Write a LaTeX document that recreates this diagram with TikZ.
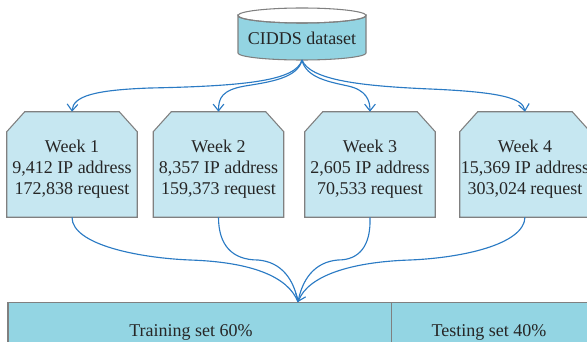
\documentclass[tikz,border=0pt]{standalone}
\usepackage{fontspec}
\setmainfont{Liberation Serif}
\usetikzlibrary{arrows.meta,backgrounds}
\definecolor{cylfill}{HTML}{93D4E2}
\definecolor{boxfill}{HTML}{C6E7F1}
\definecolor{barfill}{HTML}{93D5E3}
\definecolor{edgegray}{HTML}{808080}
\definecolor{flowblue}{HTML}{2B7BC4}
\newcommand{\firststrut}{\rule{0pt}{16pt}}
\tikzset{
  txt/.style={font=\fontsize{13.5}{15.9}\selectfont, text=black!85, align=center},
  weekbox/.style={txt, inner sep=0pt, minimum width=97.5pt, minimum height=78.75pt},
  weekshape/.style={draw=edgegray, line width=0.8pt, fill=boxfill},
  barbox/.style={draw=edgegray, line width=0.8pt, fill=barfill, inner sep=0pt, anchor=north west},
  flow/.style={draw=flowblue, line width=0.85pt, -{Straight Barb[length=5pt,width=8pt]}},
  merge/.style={draw=flowblue, line width=0.85pt},
}
\begin{document}
\begin{tikzpicture}[x=0.75pt,y=0.75pt]
\useasboundingbox (0,0) rectangle (587,-342);
% cylinder
\filldraw[draw=edgegray, line width=0.8pt, fill=cylfill]
  (238,-15.5) -- (238,-53) arc[start angle=180, end angle=360, x radius=64, y radius=7]
  -- (366,-15.5) arc[start angle=0, end angle=-180, x radius=64, y radius=7.5] -- cycle;
\draw[edgegray, line width=0.8pt] (302,-15.5) ellipse[x radius=64, y radius=7.5];
\node[txt, minimum width=96pt, minimum height=30pt] (db) at (302,-38) {CIDDS dataset};
\coordinate (dbb) at (302,-60);
% week boxes
\node[weekbox] (w1) at (72,-164.5) {\firststrut Week 1\\9,412 IP address\\172,838 request};
\node[weekbox] (w2) at (218.5,-164.5) {\firststrut Week 2\\8,357 IP address\\159,373 request};
\node[weekbox] (w3) at (370,-164.5) {\firststrut Week 3\\2,605 IP address\\70,533 request};
\node[weekbox] (w4) at (525,-164.5) {\firststrut Week 4\\15,369 IP address\\303,024 request};
\begin{scope}[on background layer]
\foreach \n in {w1,w2,w3,w4}{
  \filldraw[weekshape] (\n.south west) -- ([yshift=-15pt]\n.north west)
    -- ([xshift=13.5pt]\n.north west) -- ([xshift=-13.5pt]\n.north east)
    -- ([yshift=-15pt]\n.north east) -- (\n.south east) -- cycle;
}
\end{scope}
% bottom bar
\node[barbox, minimum width=287.6pt, minimum height=46.5pt] (train) at (7.5,-302) {};
\node[barbox, minimum width=148pt, minimum height=46.5pt] (test) at (391,-302) {};
\node[txt] (trainlbl) at (191,-332) {Training set 60\%};
\node[txt] (testlbl) at (489,-332) {Testing set 40\%};
\coordinate (tip) at (298,-302);
% top arrows
\draw[flow] (dbb) .. controls (296,-80) and (250,-86) .. (150,-88)
  .. controls (95,-90) and (73,-96) .. (w1.north);
\draw[flow] (dbb) .. controls (298,-78) and (270,-82) .. (245,-86)
  .. controls (222,-90) and (218.5,-98) .. (w2.north);
\draw[flow] (dbb) .. controls (306,-78) and (330,-82) .. (348,-86)
  .. controls (366,-90) and (370,-100) .. (w3.north);
\draw[flow] (dbb) .. controls (310,-80) and (360,-86) .. (430,-89)
  .. controls (500,-92) and (523,-98) .. (w4.north);
% merging arrows
\draw[merge] (w1.south) .. controls (72,-245) and (140,-258) .. (190,-260)
  .. controls (250,-262) and (288,-276) .. (tip);
\draw[merge] (w2.south) .. controls (218.5,-245) and (232,-260) .. (258,-260)
  .. controls (282,-262) and (294,-280) .. (tip);
\draw[merge] (w3.south) .. controls (371,-245) and (360,-260) .. (338,-260)
  .. controls (314,-262) and (302,-280) .. (tip);
\draw[flow] (w4.south) .. controls (524,-245) and (460,-258) .. (410,-260)
  .. controls (350,-262) and (308,-276) .. (tip);
\end{tikzpicture}
\end{document}
